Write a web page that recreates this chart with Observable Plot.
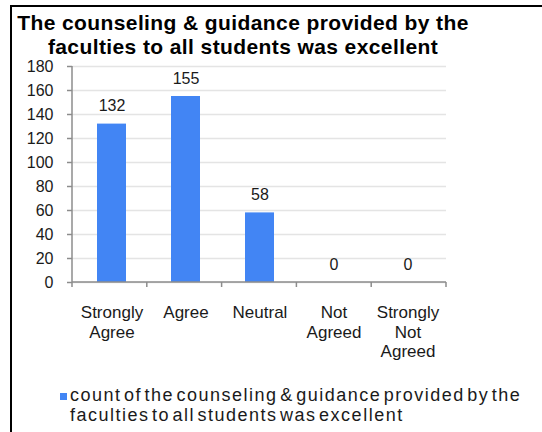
<!DOCTYPE html>
<html>
<head>
<meta charset="utf-8">
<script src="https://cdn.jsdelivr.net/npm/d3@7"></script>
<script src="https://cdn.jsdelivr.net/npm/@observablehq/plot@0.6"></script>
<style>
  html, body { margin: 0; padding: 0; background: #fff; }
  #wrap { position: relative; width: 542px; height: 432px; overflow: hidden; font-family: Arial, "Liberation Sans", sans-serif; color: #1a1a1a; }
  #border { position: absolute; left: 10px; top: 5px; width: 560px; height: 460px; border-left: 2px solid #000; border-top: 2px solid #000; }
  #title { position: absolute; left: 0; top: 11px; width: 486px; text-align: center; font-weight: bold; font-size: 21px; line-height: 24px; letter-spacing: 0.4px; color: #000; white-space: pre-line; }
  #chart { position: absolute; left: 0; top: 60px; }
  #legend { position: absolute; left: 60px; top: 385px; }
  #legend .sw { position: absolute; left: 0; top: 8px; width: 7px; height: 7px; background: #4285f4; }
  #legend .lt { position: absolute; left: 10px; top: 0; font-size: 18px; line-height: 20px; letter-spacing: 1.5px; word-spacing: -4px; white-space: pre; color: #1a1a1a; }
</style>
</head>
<body>
<div id="wrap">
  <div id="border"></div>
  <div id="title"></div>
  <div id="chart"></div>
  <div id="legend"><span class="sw"></span><span class="lt"></span></div>
</div>
<script>
const titleLines = ["The counseling & guidance provided by the", "faculties to all students was excellent"];
const seriesLines = ["count of the counseling & guidance provided by the", "faculties to all students was excellent"];
const categories = ["Strongly Agree", "Agree", "Neutral", "Not Agreed", "Strongly Not Agreed"];
const tickLabels = ["Strongly\nAgree", "Agree", "Neutral", "Not\nAgreed", "Strongly\nNot\nAgreed"];
const counts = [132, 155, 58, 0, 0];
const yTicks = [0, 20, 40, 60, 80, 100, 120, 140, 160, 180];

document.getElementById("title").textContent = titleLines.join("\n");
document.querySelector("#legend .lt").textContent = seriesLines.join("\n");

const data = categories.map((c, i) => ({category: c, count: counts[i], label: tickLabels[i]}));

function axisLines(index, scales, values, dims) {
  const {width, height, marginLeft, marginRight, marginTop, marginBottom} = dims;
  const x0 = marginLeft, x1 = width - marginRight;
  const yb = scales.y ? scales.y(0) : height - marginBottom;
  const yt = scales.y ? scales.y(yTicks[yTicks.length - 1]) : marginTop;
  const g = d3.create("svg:g").attr("stroke", "#8c8c8c").attr("stroke-width", 1.5).attr("fill", "none");
  g.append("line").attr("x1", x0).attr("x2", x0).attr("y1", yt).attr("y2", yb);
  g.append("line").attr("x1", x0).attr("x2", x1).attr("y1", yb).attr("y2", yb);
  const step = (x1 - x0) / categories.length;
  for (let i = 0; i <= categories.length; i++) {
    const x = x0 + i * step;
    g.append("line").attr("x1", x).attr("x2", x).attr("y1", yb).attr("y2", yb + 5);
  }
  return g.node();
}

const chart = Plot.plot({
  width: 542,
  height: 310,
  marginLeft: 72,
  marginRight: 96,
  marginTop: 6,
  marginBottom: 88,
  style: {fontFamily: "Arial, 'Liberation Sans', sans-serif", fontSize: "16px", color: "#1a1a1a", background: "transparent", overflow: "visible"},
  x: {domain: categories, paddingInner: 0.61, paddingOuter: 0.305, label: null},
  y: {domain: [0, 180], label: null},
  marks: [
    Plot.gridY(yTicks, {stroke: "#e4e4e4", strokeOpacity: 1, strokeWidth: 1.5}),
    Plot.barY(data, {x: "category", y: "count", fill: "#4285f4"}),
    Plot.text(data, {x: "category", y: "count", text: d => String(d.count), dy: -18, fontSize: 16, fill: "#1a1a1a"}),
    Plot.axisY(yTicks, {tickSize: 5, tickPadding: 14, stroke: "#8c8c8c", strokeWidth: 1.5, fontSize: 16, fill: "#1a1a1a", label: null}),
    Plot.axisX({tickSize: 0, tickPadding: 22, tickFormat: d => tickLabels[categories.indexOf(d)], fontSize: 17, lineHeight: 1.15, fill: "#1a1a1a", label: null}),
    axisLines
  ]
});
document.getElementById("chart").appendChild(chart);
</script>
</body>
</html>
